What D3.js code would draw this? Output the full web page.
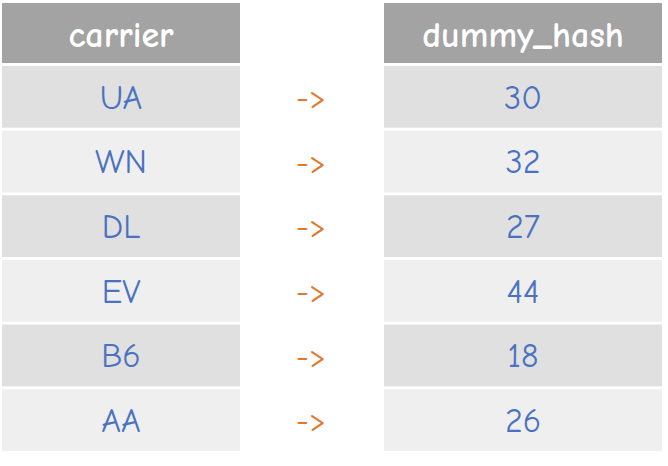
<!DOCTYPE html>
<html><head><meta charset="utf-8">
<script src="https://d3js.org/d3.v7.min.js"></script>
<style>body{margin:0;background:#fff}</style>
</head><body>
<svg id="c" width="668" height="466"></svg>
<script>
const carriers = ['UA', 'WN', 'DL', 'EV', 'B6', 'AA'];
const hashes = [30, 32, 27, 44, 18, 26];
const headers = ['carrier', 'dummy_hash'];

const svg = d3.select('#c');
const font = "'Comic Neue','Lato','DejaVu Sans',sans-serif";
const y = d3.scaleBand().domain(d3.range(carriers.length)).range([66, 451]).paddingInner(0.045);
const cols = [{ x: 2, w: 238 }, { x: 384, w: 278 }];

// headers
cols.forEach((c, i) => {
    svg.append('rect').attr('x', c.x).attr('y', 3).attr('width', c.w).attr('height', 60).attr('fill', '#a3a3a3');
    svg.append('text').attr('x', c.x + c.w / 2).attr('y', 34).attr('dy', '0.35em')
        .attr('text-anchor', 'middle').attr('fill', '#fff').attr('font-family', font)
        .attr('font-size', 36).attr('font-weight', 700).text(headers[i]);
});

carriers.forEach((car, i) => {
    const fill = i % 2 === 0 ? '#e0e0e0' : '#efefef';
    const cy = y(i) + y.bandwidth() / 2;
    [car, hashes[i]].forEach((v, j) => {
        const c = cols[j];
        svg.append('rect').attr('x', c.x).attr('y', y(i)).attr('width', c.w).attr('height', y.bandwidth()).attr('fill', fill);
        svg.append('text').attr('x', c.x + c.w / 2).attr('y', cy).attr('dy', '0.35em')
            .attr('text-anchor', 'middle').attr('fill', '#4a72c0').attr('font-family', font)
            .attr('font-size', 34).text(v);
    });
    svg.append('text').attr('x', 311).attr('y', cy).attr('dy', '0.35em')
        .attr('text-anchor', 'middle').attr('fill', '#e07a33').attr('font-family', font)
        .attr('font-size', 32).text('->');
});
</script>
</body></html>
